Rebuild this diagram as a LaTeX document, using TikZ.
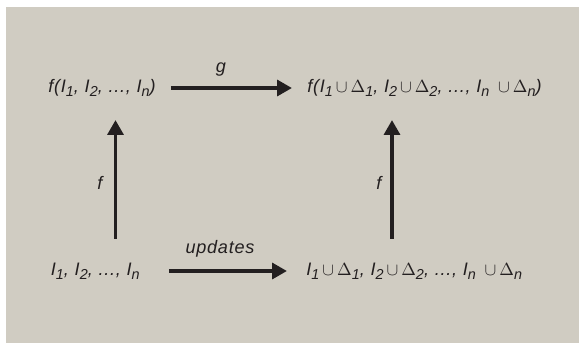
\documentclass[tikz,border=0pt]{standalone}
\usepackage{fontspec}
\setmainfont{Liberation Sans}[LetterSpace=4]
\usetikzlibrary{arrows.meta, calc}
\definecolor{paper}{RGB}{208,204,194}
\definecolor{ink}{RGB}{35,31,32}
\newcommand{\ix}[1]{\raisebox{-2.6pt}{\fontsize{8.2}{9}\selectfont #1}}
\newcommand{\dlt}[1]{\textup{$\Delta$}\ix{#1}}
\newcommand{\un}{\,\textup{$\cup$}\,}

\begin{document}
\begin{tikzpicture}[x=0.02cm, y=-0.02cm,
    >={Triangle[length=8.5pt, width=9pt]},
    font=\fontsize{10.3}{12}\selectfont\itshape, text=ink,
    term/.style={inner sep=0pt, text height=8pt, text depth=3pt},
    map/.style={->, line width=2.2pt, draw=ink}]
  % background
  \useasboundingbox (0,0) rectangle (579,343);
  \fill[paper] (6,7) rectangle (579,343);
  % terms
  \node[term, anchor=east] (tl) at (156,88) {f(I\ix{1}, I\ix{2}, ..., I\ix{n})};
  \node[term, anchor=west] (tr) at (307,88) {f(I\ix{1}\un\dlt{1}, I\ix{2}\un\dlt{2}, ..., I\ix{n} \un\dlt{n})};
  \node[term, anchor=east] (bl) at (140,271) {I\ix{1}, I\ix{2}, ..., I\ix{n}};
  \node[term, anchor=west] (br) at (306,271) {I\ix{1}\un\dlt{1}, I\ix{2}\un\dlt{2}, ..., I\ix{n} \un\dlt{n}};
  % maps
  \draw[map, shorten <=0.3cm, shorten >=0.3cm] (tl) -- (tr);
  \draw[map, shorten <=0.58cm, shorten >=0.38cm] (bl) -- (br);
  \draw[map, shorten <=0.44cm, shorten >=0.44cm] (bl.north -| 115.5,0) -- (tl.south -| 115.5,0);
  \draw[map, shorten <=0.44cm, shorten >=0.44cm] (br.north -| 392,0) -- (tr.south -| 392,0);
  % map labels
  \node (g) at (221,70) {g};
  \node (upd) at (220,249) {updates};
  \node (fl) at (100,183) {f};
  \node (fr) at (379,183) {f};
\end{tikzpicture}
\end{document}
